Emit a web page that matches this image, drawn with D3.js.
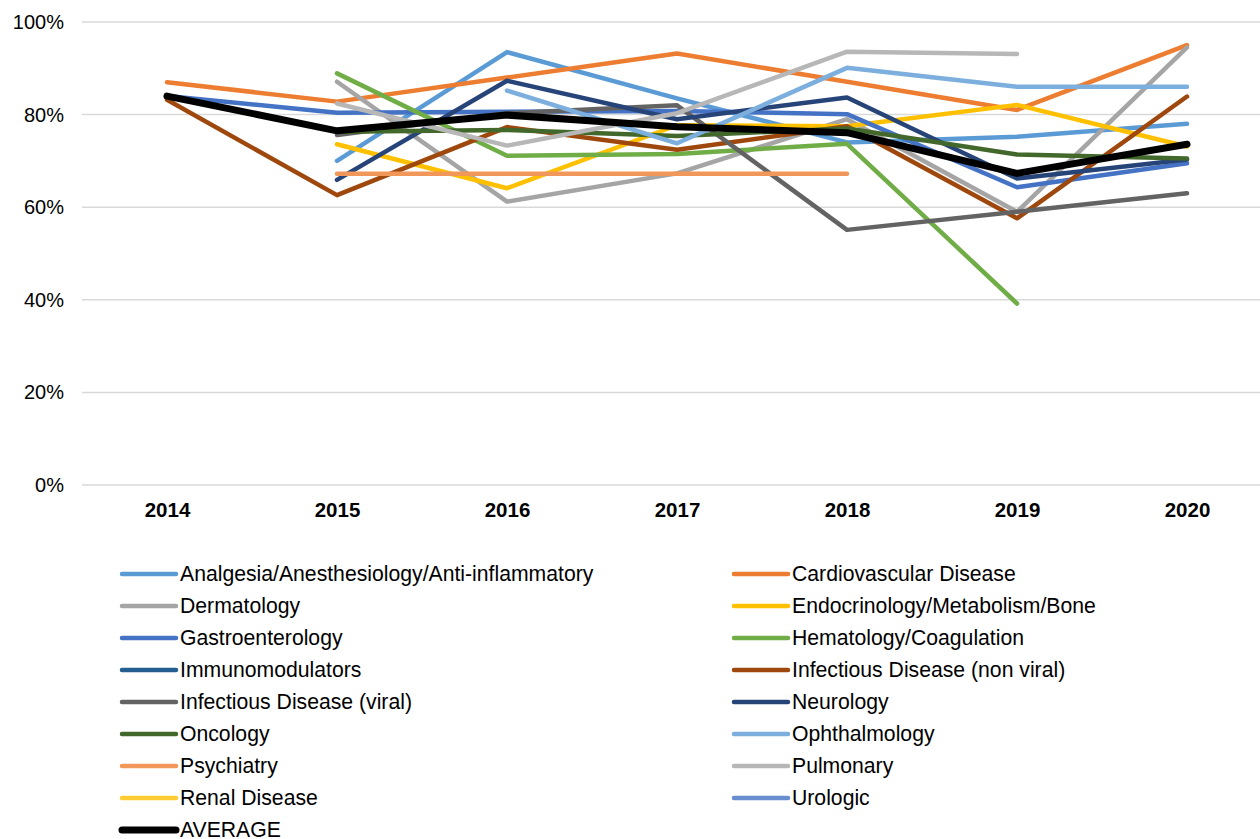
<!DOCTYPE html>
<html>
<head>
<meta charset="utf-8">
<script src="https://cdn.jsdelivr.net/npm/d3@7"></script>
<style>
  html, body { margin: 0; padding: 0; background: #fff; }
  svg { display: block; font-family: "Liberation Sans", Arial, sans-serif; }
</style>
</head>
<body>
<svg id="chart" width="1260" height="839"></svg>
<script>
const years = ["2014", "2015", "2016", "2017", "2018", "2019", "2020"];
const yTicks = [0, 0.2, 0.4, 0.6, 0.8, 1.0];

const seriesNames = [
  "Analgesia/Anesthesiology/Anti-inflammatory",
  "Cardiovascular Disease",
  "Dermatology",
  "Endocrinology/Metabolism/Bone",
  "Gastroenterology",
  "Hematology/Coagulation",
  "Immunomodulators",
  "Infectious Disease (non viral)",
  "Infectious Disease (viral)",
  "Neurology",
  "Oncology",
  "Ophthalmology",
  "Psychiatry",
  "Pulmonary",
  "Renal Disease",
  "Urologic",
  "AVERAGE"
];
const seriesColors = [
  "#5B9BD5", "#ED7D31", "#A5A5A5", "#FFC000", "#4472C4", "#70AD47",
  "#255E91", "#9E480E", "#636363", "#264478", "#43682B", "#7CAFDD",
  "#F1975A", "#B7B7B7", "#FFCD33", "#698ED0", "#000000"
];

// values per year 2014..2020 (null = no data)
const analgesia      = [null, 0.700, 0.935, 0.835, 0.740, 0.752, 0.780];
const cardiovascular = [0.870, 0.828, 0.880, 0.932, 0.871, 0.810, 0.950];
const dermatology    = [null, 0.871, 0.612, 0.673, 0.790, 0.590, 0.945];
const endocrinology  = [null, 0.736, 0.641, 0.777, 0.775, 0.821, 0.731];
const gastro         = [0.840, 0.804, 0.806, 0.808, 0.801, 0.643, 0.695];
const hematology     = [null, 0.889, 0.711, 0.715, 0.737, 0.392, null];
const immuno         = [null, null, null, null, null, null, null];
const infNonViral    = [0.832, 0.626, 0.773, 0.724, 0.775, 0.576, 0.839];
const infViral       = [null, 0.756, 0.803, 0.820, 0.551, 0.590, 0.630];
const neurology      = [null, 0.659, 0.873, 0.790, 0.837, 0.662, 0.703];
const oncology       = [null, 0.763, 0.767, 0.754, 0.770, 0.714, 0.705];
const ophthalmology  = [null, null, 0.852, 0.738, 0.901, 0.860, 0.860];
const psychiatry     = [null, 0.672, 0.672, 0.672, 0.672, null, null];
const pulmonary      = [null, 0.824, 0.733, 0.803, 0.936, 0.931, null];
const renal          = [null, null, null, null, null, null, null];
const urologic       = [null, null, null, null, null, null, null];
const average        = [0.840, 0.765, 0.799, 0.774, 0.761, 0.673, 0.736];

const seriesValues = [analgesia, cardiovascular, dermatology, endocrinology, gastro,
  hematology, immuno, infNonViral, infViral, neurology, oncology, ophthalmology,
  psychiatry, pulmonary, renal, urologic, average];

const series = seriesNames.map((name, i) => ({
  name, color: seriesColors[i], values: seriesValues[i],
  isAvg: name === "AVERAGE"
}));

const svg = d3.select("#chart");
const plotLeft = 82, plotRight = 1272, plotTop = 22, plotBottom = 485;

const x = d3.scalePoint().domain(years).range([plotLeft, plotRight]).padding(0.5);
const y = d3.scaleLinear().domain([0, 1]).range([plotBottom, plotTop]);

// gridlines
svg.append("g")
  .selectAll("line")
  .data(yTicks)
  .join("line")
  .attr("x1", plotLeft).attr("x2", 1260)
  .attr("y1", d => y(d)).attr("y2", d => y(d))
  .attr("stroke", "#D9D9D9").attr("stroke-width", 1.5);

// y axis labels
const yAxis = d3.axisLeft(y).tickValues(yTicks).tickFormat(d3.format(".0%")).tickSize(0).tickPadding(0);
const gy = svg.append("g").attr("transform", `translate(64,0)`).call(yAxis);
gy.select(".domain").remove();
gy.selectAll("text").attr("font-size", 20).attr("fill", "#000")
  .attr("font-family", "Liberation Sans, Arial, sans-serif");

// x axis labels
const xAxis = d3.axisBottom(x).tickSize(0).tickPadding(0);
const gx = svg.append("g").attr("transform", `translate(0,${plotBottom + 17})`).call(xAxis);
gx.select(".domain").remove();
gx.selectAll("text").attr("font-size", 20.5).attr("font-weight", "bold").attr("fill", "#000")
  .attr("font-family", "Liberation Sans, Arial, sans-serif");

// lines
const line = d3.line()
  .defined(d => d.v != null)
  .x(d => x(d.year))
  .y(d => y(d.v));

const gLines = svg.append("g");
series.forEach(s => {
  const pts = years.map((yr, i) => ({ year: yr, v: s.values[i] }));
  gLines.append("path")
    .datum(pts)
    .attr("d", line)
    .attr("fill", "none")
    .attr("stroke", s.color)
    .attr("stroke-width", s.isAvg ? 7 : 4.5)
    .attr("stroke-linejoin", "round")
    .attr("stroke-linecap", "round");
});

// legend
const legend = svg.append("g");
series.forEach((s, i) => {
  const col = i % 2, row = Math.floor(i / 2);
  const lx = col === 0 ? 120 : 732;
  const ly = 574 + row * 32;
  const g = legend.append("g").attr("transform", `translate(${lx},${ly})`);
  g.append("line")
    .attr("x1", 2).attr("x2", 56).attr("y1", 0).attr("y2", 0)
    .attr("stroke", s.color).attr("stroke-width", s.isAvg ? 7 : 4.5)
    .attr("stroke-linecap", "round");
  g.append("text")
    .attr("x", 60).attr("y", 0).attr("dy", "0.35em")
    .attr("font-size", 21.2).attr("fill", "#000")
    .text(s.name);
});
</script>
</body>
</html>
